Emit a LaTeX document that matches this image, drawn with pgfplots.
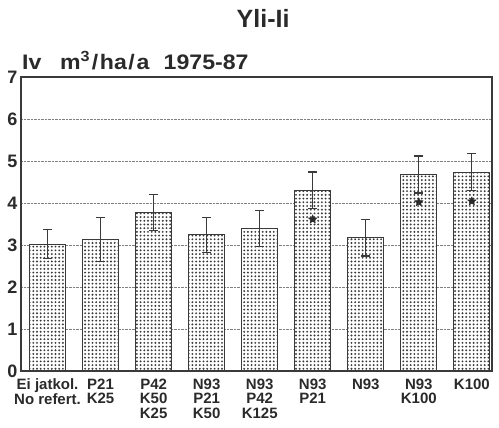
\documentclass[border=0pt]{standalone}
\usepackage{pgfplots}
\pgfplotsset{compat=1.18}
\usetikzlibrary{patterns.meta}
\usepackage{fontspec}
\setmainfont{Liberation Sans}
\definecolor{ink}{HTML}{2A2A2A}
\definecolor{barc}{HTML}{3A3A3A}
\pgfdeclareplotmark{fstar}{%
  \pgfpathmoveto{\pgfpointpolar{90}{\pgfplotmarksize}}%
  \pgfpathlineto{\pgfpointpolar{126}{0.45\pgfplotmarksize}}%
  \pgfpathlineto{\pgfpointpolar{162}{\pgfplotmarksize}}%
  \pgfpathlineto{\pgfpointpolar{198}{0.45\pgfplotmarksize}}%
  \pgfpathlineto{\pgfpointpolar{234}{\pgfplotmarksize}}%
  \pgfpathlineto{\pgfpointpolar{270}{0.45\pgfplotmarksize}}%
  \pgfpathlineto{\pgfpointpolar{306}{\pgfplotmarksize}}%
  \pgfpathlineto{\pgfpointpolar{342}{0.45\pgfplotmarksize}}%
  \pgfpathlineto{\pgfpointpolar{18}{\pgfplotmarksize}}%
  \pgfpathlineto{\pgfpointpolar{54}{0.45\pgfplotmarksize}}%
  \pgfpathclose
  \pgfusepathqfillstroke}
\begin{document}
\begin{tikzpicture}
\useasboundingbox (-21pt,-57pt) rectangle (478pt,371pt);
\begin{axis}[
  scale only axis, width=471pt, height=294pt,
  xmin=-0.5, xmax=8.38, ymin=0, ymax=7,
  ytick={0,1,...,7}, xtick={0,1,...,8},
  xticklabels={{Ei jatkol.\\No refert.},{P21\\K25},{P42\\K50\\K25},{N93\\P21\\K50},{N93\\P42\\K125},{N93\\P21},{N93},{N93\\K100},{K100}},
  xticklabel style={align=center, font=\bfseries\fontsize{15}{14.7}\selectfont, text=ink, anchor=north, yshift=-4pt},
  yticklabel style={font=\bfseries\fontsize{18}{18}\selectfont, text=ink},
  /pgf/number format/assume math mode=true,
  major tick length=0pt,
  ymajorgrids, grid style={densely dotted, gray, line width=0.8pt},
  axis line style={barc, line width=1.1pt},
  clip=false,
]
\addplot[ybar, bar width=0.68, draw=barc, line width=1.1pt, fill=white,
  postaction={pattern color=barc, pattern={Dots[distance=3.7pt, radius=1.05pt]}},
  error bars/.cd, y dir=both, y explicit,
  error bar style={line width=1.2pt, draw=barc},
  error mark options={rotate=90, mark size=4.5pt, line width=1.2pt, draw=barc}]
  coordinates {
  (0,3.02) +- (0,0.34)
  (1,3.13) +- (0,0.53)
  (2,3.78) +- (0,0.43)
  (3,3.24) +- (0,0.42)
  (4,3.40) +- (0,0.43)
  (5,4.30) +- (0,0.44)
  (6,3.17) +- (0,0.43)
  (7,4.68) +- (0,0.44)
  (8,4.73) +- (0,0.44)
  };
\addplot[only marks, mark=fstar, mark size=4.5pt, fill=ink, draw=ink]
  coordinates {(5,3.61) (7,4.02) (8,4.04)};
\node[anchor=base, font=\bfseries\fontsize{25}{25}\selectfont, text=ink] at (axis description cs:0.514,1.170) {Yli-Ii};
\node[anchor=base west, inner sep=0pt, font=\bfseries\fontsize{21}{21}\selectfont, text=ink] at (axis description cs:0.002,1.027) {\scalebox{1.1}[1]{Iv\hspace{17pt}m\textsuperscript{3}\hspace{1.5pt}/\hspace{1.5pt}ha\hspace{1.5pt}/\hspace{1.5pt}a\hspace{13pt}1975-87}};
\end{axis}
\end{tikzpicture}
\end{document}
